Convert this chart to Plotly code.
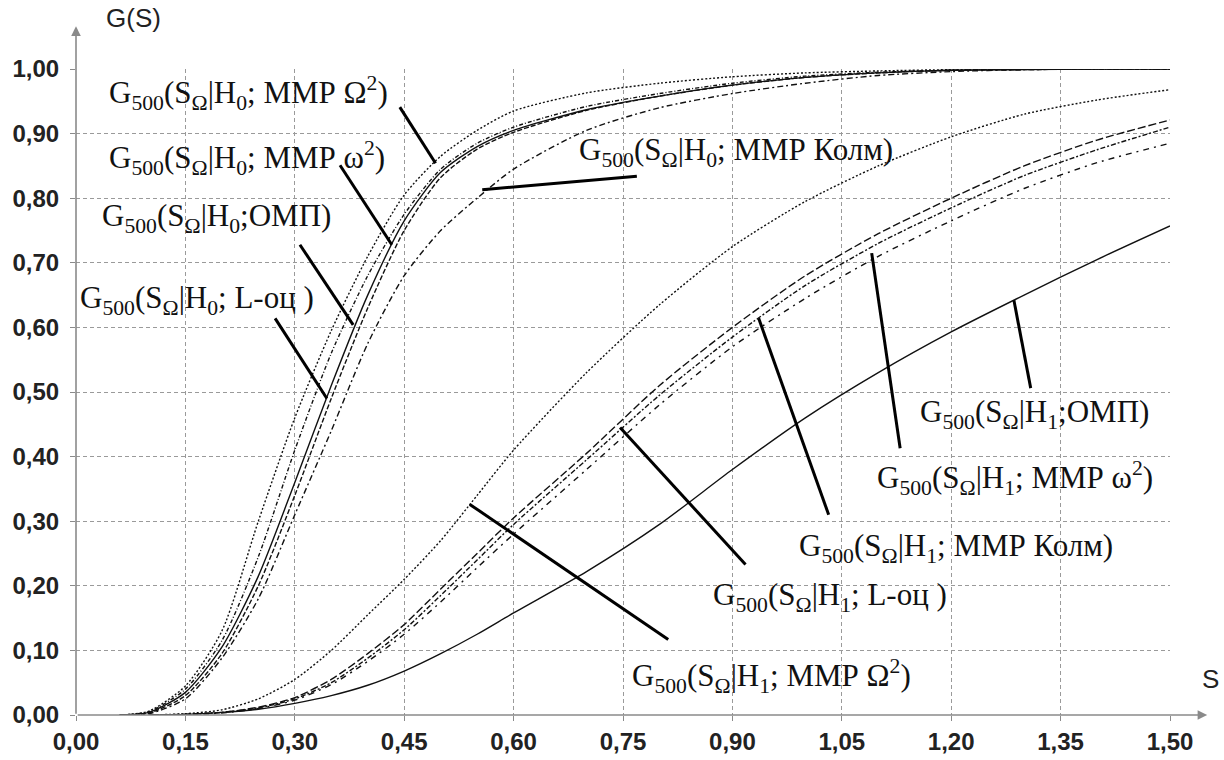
import plotly.graph_objects as go

# ---------------- data ----------------
S_H0 = [0.06, 0.10, 0.15, 0.20, 0.25, 0.30, 0.35, 0.40, 0.45, 0.50, 0.55,
        0.60, 0.70, 0.80, 0.90, 1.00, 1.10, 1.20, 1.30, 1.40, 1.50]
H0_Omega2 = [0, 0.006, 0.045, 0.13, 0.30, 0.46, 0.595, 0.71, 0.805, 0.865, 0.905,
             0.935, 0.963, 0.978, 0.988, 0.994, 0.997, 0.999, 1.0, 1.0, 1.0]
H0_omega2 = [0, 0.005, 0.04, 0.115, 0.245, 0.41, 0.56, 0.68, 0.775, 0.845, 0.885,
             0.91, 0.942, 0.962, 0.978, 0.989, 0.995, 0.998, 1.0, 1.0, 1.0]
H0_OMP = [0, 0.004, 0.035, 0.105, 0.215, 0.36, 0.51, 0.65, 0.765, 0.84, 0.88,
          0.905, 0.937, 0.958, 0.975, 0.987, 0.994, 0.998, 0.999, 1.0, 1.0]
H0_Loc = [0, 0.003, 0.03, 0.095, 0.20, 0.34, 0.49, 0.63, 0.75, 0.832, 0.876,
          0.902, 0.936, 0.958, 0.975, 0.987, 0.994, 0.998, 0.999, 1.0, 1.0]
H0_Kolm = [0, 0.002, 0.025, 0.088, 0.18, 0.31, 0.44, 0.575, 0.68, 0.75, 0.80,
           0.845, 0.905, 0.94, 0.962, 0.978, 0.99, 0.996, 0.999, 1.0, 1.0]

S_H1 = [0.10, 0.15, 0.20, 0.25, 0.30, 0.35, 0.40, 0.45, 0.50, 0.55,
        0.60, 0.70, 0.80, 0.90, 1.00, 1.10, 1.20, 1.30, 1.40, 1.50]
H1_Omega2 = [0, 0.002, 0.008, 0.025, 0.055, 0.10, 0.155, 0.21, 0.27, 0.34,
             0.41, 0.53, 0.635, 0.725, 0.795, 0.85, 0.895, 0.93, 0.952, 0.968]
H1_Loc = [0, 0.001, 0.004, 0.012, 0.027, 0.055, 0.095, 0.14, 0.195, 0.25,
          0.305, 0.405, 0.51, 0.60, 0.68, 0.745, 0.80, 0.85, 0.89, 0.921]
H1_omega2 = [0, 0.001, 0.004, 0.011, 0.025, 0.05, 0.088, 0.132, 0.185, 0.24,
             0.295, 0.395, 0.495, 0.585, 0.665, 0.73, 0.785, 0.835, 0.875, 0.91]
H1_Kolm = [0, 0.001, 0.003, 0.01, 0.023, 0.047, 0.083, 0.125, 0.175, 0.228,
           0.28, 0.38, 0.48, 0.57, 0.645, 0.71, 0.765, 0.815, 0.855, 0.885]
H1_OMP = [0, 0.001, 0.004, 0.009, 0.018, 0.03, 0.046, 0.068, 0.095, 0.125,
          0.158, 0.222, 0.295, 0.38, 0.46, 0.53, 0.593, 0.65, 0.705, 0.757]

x_tickvals = [0.00, 0.15, 0.30, 0.45, 0.60, 0.75, 0.90, 1.05, 1.20, 1.35, 1.50]
x_ticktext = ["0,00", "0,15", "0,30", "0,45", "0,60", "0,75", "0,90", "1,05", "1,20", "1,35", "1,50"]
y_tickvals = [0.0, 0.1, 0.2, 0.3, 0.4, 0.5, 0.6, 0.7, 0.8, 0.9, 1.0]
y_ticktext = ["0,00", "0,10", "0,20", "0,30", "0,40", "0,50", "0,60", "0,70", "0,80", "0,90", "1,00"]

# labels: text, label anchor (S, G), pointer start (S, G), pointer end (S, G)
labels = [
    ("G<sub>500</sub>(S<sub>Ω</sub>|H<sub>0</sub>; ММР Ω<sup>2</sup>)", (0.0425, 0.963), (0.444, 0.941), (0.493, 0.854)),
    ("G<sub>500</sub>(S<sub>Ω</sub>|H<sub>0</sub>; ММР ω<sup>2</sup>)", (0.0425, 0.862), (0.362, 0.851), (0.433, 0.728)),
    ("G<sub>500</sub>(S<sub>Ω</sub>|H<sub>0</sub>;ОМП)", (0.033, 0.769), (0.307, 0.728), (0.380, 0.604)),
    ("G<sub>500</sub>(S<sub>Ω</sub>|H<sub>0</sub>; L-оц )", (0.003, 0.643), (0.273, 0.614), (0.344, 0.490)),
    ("G<sub>500</sub>(S<sub>Ω</sub>|H<sub>0</sub>; ММР Колм)", (0.687, 0.871), (0.769, 0.834), (0.557, 0.813)),
    ("G<sub>500</sub>(S<sub>Ω</sub>|H<sub>1</sub>;ОМП)", (1.155, 0.466), (1.309, 0.506), (1.286, 0.642)),
    ("G<sub>500</sub>(S<sub>Ω</sub>|H<sub>1</sub>; ММР ω<sup>2</sup>)", (1.096, 0.367), (1.130, 0.413), (1.091, 0.715)),
    ("G<sub>500</sub>(S<sub>Ω</sub>|H<sub>1</sub>; ММР Колм)", (0.989, 0.259), (1.032, 0.310), (0.936, 0.614)),
    ("G<sub>500</sub>(S<sub>Ω</sub>|H<sub>1</sub>; L-оц )", (0.870, 0.182), (0.918, 0.233), (0.746, 0.445)),
    ("G<sub>500</sub>(S<sub>Ω</sub>|H<sub>1</sub>; ММР Ω<sup>2</sup>)", (0.760, 0.061), (0.812, 0.117), (0.540, 0.326)),
]

# ---------------- figure ----------------
fig = go.Figure()

series = [
    (S_H0, H0_Omega2, "2px,2px"),
    (S_H0, H0_omega2, "4px,2px,1px,2px"),
    (S_H0, H0_OMP, "solid"),
    (S_H0, H0_Loc, "5px,2px"),
    (S_H0, H0_Kolm, "6px,3px,2px,3px"),
    (S_H1, H1_Omega2, "2px,2px"),
    (S_H1, H1_Loc, "8px,3px"),
    (S_H1, H1_omega2, "5px,2px,2px,2px"),
    (S_H1, H1_Kolm, "6px,5px,2px,5px"),
    (S_H1, H1_OMP, "solid"),
]
for xs, ys, dash in series:
    fig.add_trace(go.Scatter(
        x=xs, y=ys, mode="lines",
        line=dict(color="#111111", width=1.4, dash=dash, shape="spline", smoothing=0.7),
        cliponaxis=False, showlegend=False, hoverinfo="skip",
    ))

for text, (lx, ly), (p0x, p0y), (p1x, p1y) in labels:
    fig.add_annotation(x=lx, y=ly, xref="x", yref="y", text=text, showarrow=False,
                       xanchor="left", yanchor="middle",
                       font=dict(family="Liberation Serif", size=31, color="#111111"))
    fig.add_shape(type="line", xref="x", yref="y", x0=p0x, y0=p0y, x1=p1x, y1=p1y,
                  line=dict(color="#000000", width=3))

# axis arrows
fig.add_annotation(xref="paper", yref="paper", x=0, y=1.066, ax=0, ay=689,
                   text="", showarrow=True, arrowhead=2, arrowsize=1.2,
                   arrowwidth=1.6, arrowcolor="#8a8a8a")
fig.add_annotation(xref="paper", yref="paper", x=1.034, y=0, ax=-1131, ay=0,
                   text="", showarrow=True, arrowhead=2, arrowsize=1.2,
                   arrowwidth=1.6, arrowcolor="#8a8a8a")

# axis titles
fig.add_annotation(xref="paper", yref="paper", x=0.026, y=1.079, text="G(S)",
                   showarrow=False, xanchor="left", yanchor="middle",
                   font=dict(family="Liberation Sans", size=26, color="#222222"))
fig.add_annotation(xref="paper", yref="paper", x=1.037, y=0.055, text="S",
                   showarrow=False, xanchor="center", yanchor="middle",
                   font=dict(family="Liberation Sans", size=26, color="#222222"))

tickfont = dict(family="Liberation Sans", size=24, color="#222222", weight="bold")
fig.update_xaxes(range=[0, 1.5], tickvals=x_tickvals, ticktext=x_ticktext,
                 showgrid=True, gridcolor="#9a9a9a", griddash="4px,3px", gridwidth=1,
                 zeroline=False, showline=False, ticks="outside", ticklen=5,
                 tickcolor="#8a8a8a", tickfont=tickfont, ticklabelstandoff=0,
                 automargin=False)
fig.update_yaxes(range=[0, 1.0], tickvals=y_tickvals, ticktext=y_ticktext,
                 showgrid=True, gridcolor="#9a9a9a", griddash="4px,3px", gridwidth=1,
                 zeroline=False, showline=False, ticks="outside", ticklen=5,
                 tickcolor="#8a8a8a", tickfont=tickfont, ticklabelstandoff=6,
                 automargin=False)

fig.update_layout(width=1224, height=760, autosize=False,
                  margin=dict(l=76, r=54, t=69, b=45),
                  paper_bgcolor="white", plot_bgcolor="white")

fig.write_html("out.html", config={"displayModeBar": False},
               post_script="document.body.style.margin='0';")
